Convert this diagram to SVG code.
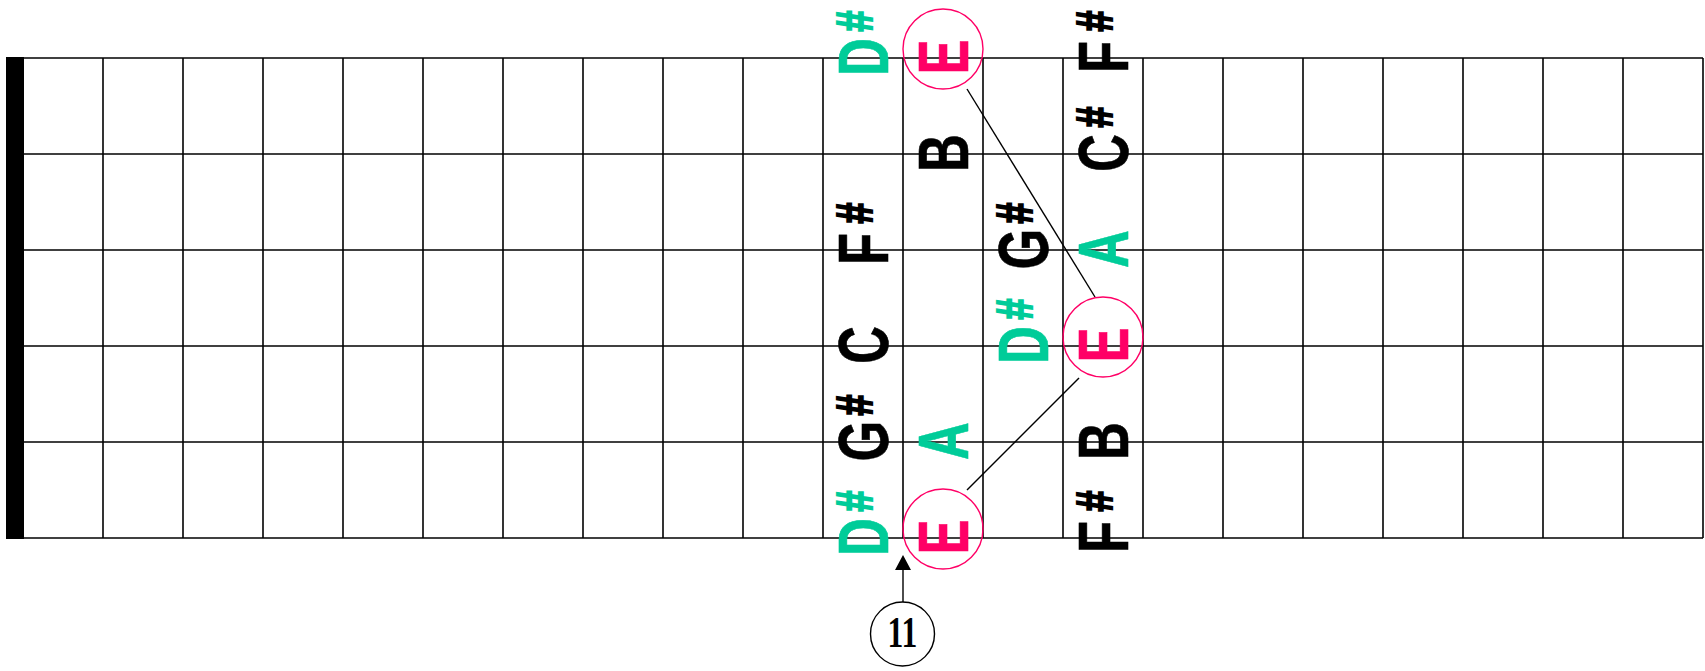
<svg xmlns="http://www.w3.org/2000/svg" width="1705" height="671" viewBox="0 0 1705 671">
<style>
.grid line{stroke:#000;stroke-width:1.6}
.note{font-family:"Liberation Sans",Arial,sans-serif;font-weight:bold;font-size:70px;text-anchor:middle;stroke-width:0.6}
.sh{font-size:50px;stroke-width:2.2}
.k{fill:#000;stroke:#000}
.g{fill:#00CC99;stroke:#00CC99}
.p{fill:#FF0066;stroke:#FF0066}
.ring{fill:none;stroke:#FF0066;stroke-width:1.4}
.conn line{stroke:#000;stroke-width:1.4}
</style>
<rect width="1705" height="671" fill="#fff"/>
<g id="fretboard" class="grid">
<rect x="6" y="57" width="18" height="482" fill="#000"/>
<line x1="6" y1="58" x2="1703" y2="58"/>
<line x1="6" y1="154" x2="1703" y2="154"/>
<line x1="6" y1="250" x2="1703" y2="250"/>
<line x1="6" y1="346" x2="1703" y2="346"/>
<line x1="6" y1="442" x2="1703" y2="442"/>
<line x1="6" y1="538" x2="1703" y2="538"/>
<line x1="103" y1="58" x2="103" y2="538"/>
<line x1="183" y1="58" x2="183" y2="538"/>
<line x1="263" y1="58" x2="263" y2="538"/>
<line x1="343" y1="58" x2="343" y2="538"/>
<line x1="423" y1="58" x2="423" y2="538"/>
<line x1="503" y1="58" x2="503" y2="538"/>
<line x1="583" y1="58" x2="583" y2="538"/>
<line x1="663" y1="58" x2="663" y2="538"/>
<line x1="743" y1="58" x2="743" y2="538"/>
<line x1="823" y1="58" x2="823" y2="538"/>
<line x1="903" y1="58" x2="903" y2="538"/>
<line x1="983" y1="58" x2="983" y2="538"/>
<line x1="1063" y1="58" x2="1063" y2="538"/>
<line x1="1143" y1="58" x2="1143" y2="538"/>
<line x1="1223" y1="58" x2="1223" y2="538"/>
<line x1="1303" y1="58" x2="1303" y2="538"/>
<line x1="1383" y1="58" x2="1383" y2="538"/>
<line x1="1463" y1="58" x2="1463" y2="538"/>
<line x1="1543" y1="58" x2="1543" y2="538"/>
<line x1="1623" y1="58" x2="1623" y2="538"/>
<line x1="1703" y1="58" x2="1703" y2="538"/>
</g>
<g id="connectors" class="conn">
<line x1="967" y1="89" x2="1095" y2="297"/>
<line x1="1079" y1="378" x2="967" y2="490"/>
<line x1="903" y1="602" x2="903" y2="570"/>
<path d="M903 555 L911 570 L895 570 Z" fill="#000"/>
</g>
<g id="nA1"><text class="note g" transform="translate(888,57) rotate(-90) scale(0.75,1)"><tspan x="0">D</tspan><tspan class="sh" x="48" dy="-16">#</tspan></text></g>
<g id="nA3"><text class="note k" transform="translate(888,249) rotate(-90) scale(0.75,1)"><tspan x="0">F</tspan><tspan class="sh" x="48" dy="-16">#</tspan></text></g>
<g id="nA4"><text class="note k" transform="translate(888,345) rotate(-90) scale(0.75,1)">C</text></g>
<g id="nA5"><text class="note k" transform="translate(888,441) rotate(-90) scale(0.75,1)"><tspan x="0">G</tspan><tspan class="sh" x="48" dy="-16">#</tspan></text></g>
<g id="nA6"><text class="note g" transform="translate(888,537) rotate(-90) scale(0.75,1)"><tspan x="0">D</tspan><tspan class="sh" x="48" dy="-16">#</tspan></text></g>
<g id="nB1"><circle class="ring" cx="943" cy="49" r="40"/><text class="note p" transform="translate(968,57) rotate(-90) scale(0.75,1)">E</text></g>
<g id="nB2"><text class="note k" transform="translate(968,153) rotate(-90) scale(0.75,1)">B</text></g>
<g id="nB5"><text class="note g" transform="translate(968,441) rotate(-90) scale(0.75,1)">A</text></g>
<g id="nB6"><circle class="ring" cx="943" cy="529" r="40"/><text class="note p" transform="translate(968,537) rotate(-90) scale(0.75,1)">E</text></g>
<g id="nC3"><text class="note k" transform="translate(1048,249) rotate(-90) scale(0.75,1)"><tspan x="0">G</tspan><tspan class="sh" x="48" dy="-16">#</tspan></text></g>
<g id="nC4"><text class="note g" transform="translate(1048,345) rotate(-90) scale(0.75,1)"><tspan x="0">D</tspan><tspan class="sh" x="48" dy="-16">#</tspan></text></g>
<g id="nD1"><text class="note k" transform="translate(1128,57) rotate(-90) scale(0.75,1)"><tspan x="0">F</tspan><tspan class="sh" x="48" dy="-16">#</tspan></text></g>
<g id="nD2"><text class="note k" transform="translate(1128,153) rotate(-90) scale(0.75,1)"><tspan x="0">C</tspan><tspan class="sh" x="48" dy="-16">#</tspan></text></g>
<g id="nD3"><text class="note g" transform="translate(1128,249) rotate(-90) scale(0.75,1)">A</text></g>
<g id="nD4"><circle class="ring" cx="1103" cy="337" r="40"/><text class="note p" transform="translate(1128,345) rotate(-90) scale(0.75,1)">E</text></g>
<g id="nD5"><text class="note k" transform="translate(1128,441) rotate(-90) scale(0.75,1)">B</text></g>
<g id="nD6"><text class="note k" transform="translate(1128,537) rotate(-90) scale(0.75,1)"><tspan x="0">F</tspan><tspan class="sh" x="48" dy="-16">#</tspan></text></g>
<g id="fret-label">
<circle cx="902.5" cy="634" r="32" fill="#fff" stroke="#000" stroke-width="1.4"/>
<text transform="translate(902.5,647) scale(0.72,1)" text-anchor="middle" font-family="'Liberation Serif','Times New Roman',serif" font-weight="bold" font-size="44" fill="#000">11</text>
</g>
</svg>
